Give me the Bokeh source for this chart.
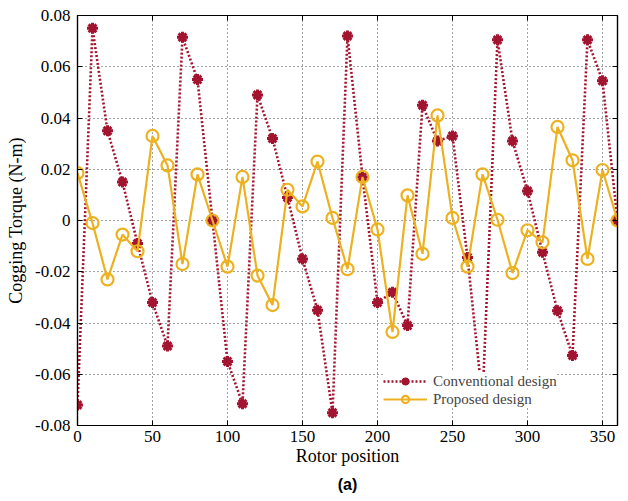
from bokeh.plotting import figure
from bokeh.models import (Range1d, LinearAxis, FixedTicker, CustomJSTickFormatter,
                          Legend, LegendItem, Title, ColumnDataSource, InlineStyleSheet)
from bokeh.embed import file_html
from bokeh.resources import INLINE

positions = list(range(0, 361, 10))
conventional = [-0.072, 0.075, 0.035, 0.015, -0.009, -0.032, -0.049, 0.0715, 0.055, 0.0,
                -0.055, -0.0715, 0.049, 0.032, 0.009, -0.015, -0.035, -0.075, 0.072, 0.017,
                -0.032, -0.028, -0.041, 0.045, 0.031, 0.033, -0.0144, -0.070, 0.0705, 0.031,
                0.0115, -0.0124, -0.0352, -0.0527, 0.0705, 0.0545, 0.0]
proposed = [0.0185, -0.001, -0.023, -0.0055, -0.012, 0.033, 0.0215, -0.017, 0.018, 0.0,
            -0.018, 0.017, -0.0215, -0.033, 0.012, 0.0055, 0.023, 0.001, -0.019, 0.017,
            -0.0035, -0.0435, 0.0098, -0.013, 0.041, 0.001, -0.018, 0.018, 0.0003, -0.0205,
            -0.0038, -0.0085, 0.0365, 0.0235, -0.015, 0.0197, 0.0]
x_ticks = [0, 50, 100, 150, 200, 250, 300, 350]
y_ticks = [-0.08, -0.06, -0.04, -0.02, 0.0, 0.02, 0.04, 0.06, 0.08]
series_names = ["Conventional design", "Proposed design"]
x_label = "Rotor position"
y_label = "Cogging Torque (N-m)"
caption = "(a)"

RED = "#A2142F"
ORANGE = "#EDB120"
SERIF = "Liberation Serif"

src = ColumnDataSource(dict(x=positions, conv=conventional, prop=proposed))

p = figure(width=628, height=501, output_backend="svg", toolbar_location=None,
           x_range=Range1d(0, 360), y_range=Range1d(-0.08, 0.08),
           min_border_left=77, min_border_right=11, min_border_top=15, min_border_bottom=76)
p.stylesheets = [InlineStyleSheet(css=":host { font-family: 'Liberation Serif', serif; font-size: 17px; }")]
p.background_fill_color = "white"
p.border_fill_color = "white"
p.outline_line_color = "black"
p.outline_line_width = 1.2

fmt = CustomJSTickFormatter(code="if (Math.abs(tick) < 1e-9) { return '0'; } return tick.toFixed(2);")
blank = CustomJSTickFormatter(code="return '';")

top = LinearAxis(ticker=FixedTicker(ticks=x_ticks), formatter=blank)
right = LinearAxis(ticker=FixedTicker(ticks=y_ticks), formatter=blank)
p.add_layout(top, "above")
p.add_layout(right, "right")

p.below[0].ticker = FixedTicker(ticks=x_ticks)
p.left[0].ticker = FixedTicker(ticks=y_ticks)
p.below[0].formatter = CustomJSTickFormatter(code="return tick.toFixed(0);")
p.left[0].formatter = fmt

for ax in list(p.xaxis) + list(p.yaxis):
    ax.major_tick_in = 5
    ax.major_tick_out = 0
    ax.minor_tick_in = 0
    ax.minor_tick_out = 0
    ax.axis_line_color = "black"
    ax.axis_line_width = 1.2
    ax.major_label_text_font = SERIF
    ax.major_label_text_font_size = "17px"
    ax.major_label_text_color = "black"
    ax.axis_label_text_font = SERIF
    ax.axis_label_text_font_size = "18px"
    ax.axis_label_text_font_style = "normal"
    ax.axis_label_text_color = "black"

top.major_label_standoff = 0
right.major_label_standoff = 0
p.below[0].axis_label = x_label
p.left[0].axis_label = y_label
p.below[0].major_label_standoff = 5
p.below[0].axis_label_standoff = 1
p.left[0].major_label_standoff = 7
p.left[0].axis_label_standoff = 6

p.xgrid.ticker = FixedTicker(ticks=x_ticks)
p.ygrid.ticker = FixedTicker(ticks=y_ticks)
for g in [p.xgrid[0], p.ygrid[0]]:
    g.grid_line_color = "#333333"
    g.grid_line_dash = "1 3"
    g.grid_line_width = 1
    g.grid_line_alpha = 0.9

l1 = p.line("x", "conv", source=src, line_color=RED, line_width=2.6, line_dash="2 2")
m1a = p.scatter("x", "conv", source=src, marker="asterisk", size=11, line_color=RED, line_width=3)
m1b = p.scatter("x", "conv", source=src, marker="circle", size=6, fill_color=RED, line_color=RED)

l2 = p.line("x", "prop", source=src, line_color=ORANGE, line_width=2.2)
m2 = p.scatter("x", "prop", source=src, marker="circle", size=12, fill_color=None,
               line_color=ORANGE, line_width=2.2)

legend = Legend(items=[LegendItem(label=series_names[0], renderers=[l1, m1a, m1b]),
                       LegendItem(label=series_names[1], renderers=[l2, m2])],
                location=(306, 17), glyph_width=44, glyph_height=18, spacing=0,
                label_text_font=SERIF, label_text_font_size="15px", label_standoff=6,
                label_height=18,
                border_line_color=None, background_fill_color="white", background_fill_alpha=1,
                padding=5, margin=0)
p.add_layout(legend, "center")

p.add_layout(Title(text=caption, align="center", text_font="Liberation Sans",
                   text_font_style="bold", text_font_size="16px", text_color="black"), "below")

open("out.html", "w").write(file_html(p, INLINE))
